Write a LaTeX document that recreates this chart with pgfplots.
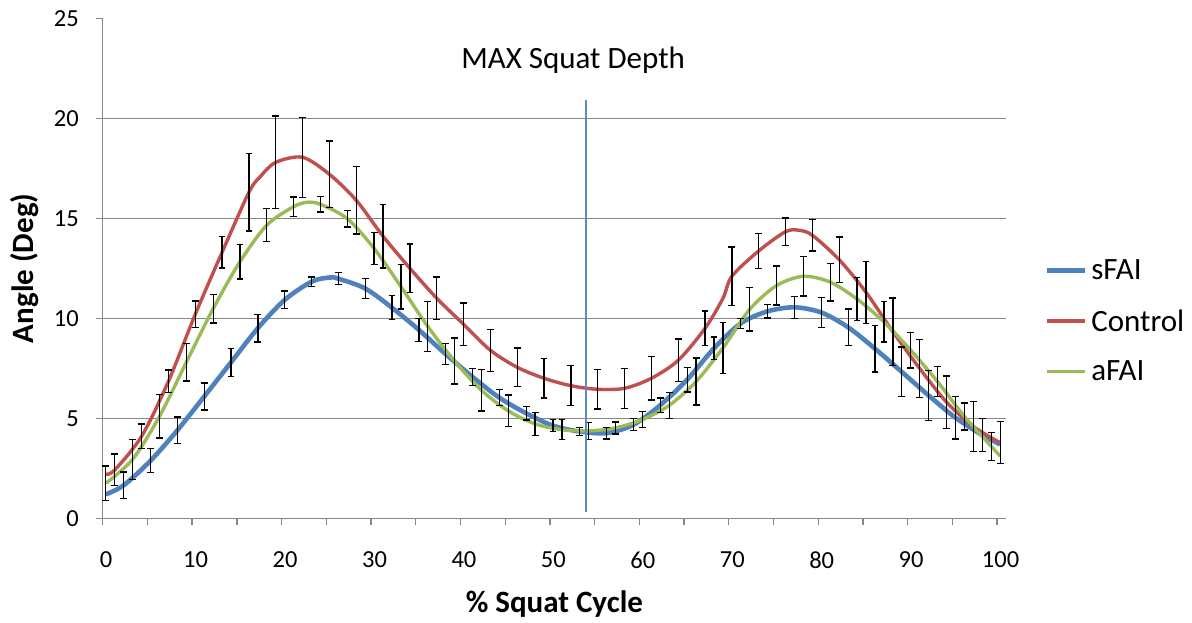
\documentclass[border=0pt]{standalone}
\usepackage{pgfplots}
\pgfplotsset{compat=1.18}
\usepackage{pgfplotstable}
\usepackage{fontspec}
\setmainfont{Carlito}
\definecolor{sblue}{HTML}{4F81BD}
\definecolor{cred}{HTML}{C0504D}
\definecolor{agreen}{HTML}{9BBB59}
\definecolor{gridgray}{HTML}{868686}
\definecolor{vline}{HTML}{5B8BC8}

% curve points (x = % squat cycle)
\pgfplotstableread{
x y
0 1.2
2 1.65
5 2.88
8 4.4
11 6.09
14 7.8
17 9.51
20 10.92
23 11.83
25 12.04
26 11.98
29 11.49
32 10.53
35 9.42
38 8.21
41 7.07
44 6.03
47 5.25
50 4.63
53 4.34
56 4.26
59 4.68
62 5.66
65 6.93
68 8.5
71 9.75
74 10.35
77 10.55
80 10.29
83 9.55
86 8.48
89 7.32
92 6.14
95 5.03
98 4.16
100 3.69
}\blueline

\pgfplotstableread{
x y
0 2.2
1 2.42
4 4.1
7 6.85
10 10.2
13 13.3
16 16.3
17.3 17.1
19 17.8
22 18.05
25 17.2
28 15.9
31 14.1
34 12.5
37 11.0
40 9.7
43 8.4
46 7.55
49 7.0
52 6.63
55 6.45
58 6.5
61 7.0
64 7.9
67 9.5
69 11.0
70 12.1
73 13.37
76 14.33
77.5 14.4
79 14.15
82 12.93
85 11.3
88 9.33
91 7.49
94 5.81
97 4.59
100 3.78
}\redline

\pgfplotstableread{
x y
0 1.75
3 2.95
6 5.1
9 7.8
12 10.48
15 12.83
18 14.66
21 15.58
22.5 15.8
24 15.7
27 14.98
30 13.49
33 11.58
36 9.59
39 7.86
42 6.4
45 5.37
48 4.72
51 4.43
54 4.37
57 4.52
60 4.94
63 5.65
66 6.84
69 8.52
72 10.45
75 11.64
78 12.1
81 11.81
84 10.96
87 9.82
90 8.4
93 6.83
96 5.09
99 3.6
100 3.11
}\greenline

% error bars (x, mean, half range)
\pgfplotstableread{
x y e
2 1.65 0.67
5 2.88 0.6
8 4.4 0.67
11 6.09 0.68
14 7.8 0.7
17 9.51 0.69
20 10.92 0.44
23 11.83 0.23
26 11.98 0.3
29 11.49 0.5
32 10.53 0.6
35 9.42 0.58
38 8.21 0.53
41 7.07 0.43
44 6.03 0.4
47 5.25 0.33
50 4.63 0.3
53 4.34 0.21
56 4.26 0.29
59 4.68 0.3
62 5.66 0.36
65 6.93 0.62
68 8.5 0.57
71 9.75 0.25
74 10.35 0.33
77 10.55 0.55
80 10.29 0.75
83 9.55 0.92
86 8.48 1.16
89 7.32 1.24
92 6.14 1.26
95 5.03 1.06
98 4.16 0.82
}\blueerr

\pgfplotstableread{
x y e
1 2.42 0.79
4 4.1 0.62
7 6.85 0.57
10 10.2 0.66
13 13.3 0.78
16 16.3 1.94
19 17.8 2.32
22 18.05 2.0
25 17.2 1.67
28 15.9 1.68
31 14.1 1.58
34 12.5 1.22
37 11.0 1.07
40 9.7 1.07
43 8.4 1.05
46 7.55 0.97
49 7.0 0.98
52 6.63 1.0
55 6.45 0.98
58 6.5 1.0
61 7.0 1.08
64 7.9 1.07
67 9.5 0.87
70 12.1 1.47
73 13.37 0.87
76 14.33 0.68
79 14.15 0.78
82 12.93 1.14
85 11.3 1.55
88 9.33 1.68
91 7.49 1.46
94 5.81 1.31
97 4.59 1.25
100 3.78 1.05
}\rederr

\pgfplotstableread{
x y e
0 1.75 0.87
3 2.95 1.0
6 5.1 1.08
9 7.8 0.94
12 10.48 0.72
15 12.83 0.86
18 14.66 0.82
21 15.58 0.49
24 15.7 0.38
27 14.98 0.42
30 13.49 0.79
33 11.58 1.12
36 9.59 1.25
39 7.86 1.15
42 6.4 1.03
45 5.37 0.79
48 4.72 0.58
51 4.43 0.5
54 4.37 0.43
57 4.52 0.3
60 4.94 0.39
63 5.65 0.65
66 6.84 1.17
69 8.52 1.27
72 10.45 1.08
75 11.64 0.98
78 12.1 0.98
81 11.81 0.94
84 10.96 1.08
87 9.82 1.01
90 8.4 0.88
93 6.83 0.75
96 5.09 0.67
99 3.6 0.7
}\greenerr

\pgfplotsset{myerr/.style={forget plot, draw=none, mark=none,
  error bars/.cd, y dir=both, y explicit,
  error bar style={draw=black, solid, line width=1.3pt},
  error mark=-,
  error mark options={draw=black, solid, line width=1.3pt, mark size=3.4pt, rotate=90}}}

\begin{document}
\begin{tikzpicture}
\begin{axis}[
  name=ax,
  scale only axis,
  width=903.3pt, height=500pt,
  xmin=0, xmax=101, ymin=0, ymax=25,
  axis lines=left,
  axis line style={-, draw=gridgray, line width=1.3pt},
  xtick={0,10,...,100},
  minor xtick={5,15,...,95},
  ytick={0,5,...,20},
  extra y ticks={25},
  extra y tick style={grid=none},
  ymajorgrids,
  major grid style={draw=gridgray, line width=1.3pt},
  tick align=outside,
  major tick length=7pt, minor tick length=7pt,
  every tick/.style={draw=gridgray, line width=1.3pt},
  /pgf/number format/assume math mode=true,
  ticklabel style={font=\fontsize{24.5}{29}\selectfont},
  yticklabel style={inner sep=0pt, anchor=east, xshift=-16.7pt},
  xticklabel style={inner sep=0pt, anchor=north, yshift=-26.4pt, xshift=3.5pt},
  xlabel={\% Squat Cycle},
  ylabel={Angle (Deg)},
  every axis x label/.style={at={(axis description cs:0.5,-0.1874)}, anchor=base, font=\fontsize{31}{37}\selectfont\bfseries},
  every axis y label/.style={at={(axis description cs:-0.0761,0.5)}, rotate=90, anchor=base, font=\fontsize{31}{37}\selectfont\bfseries},
  legend style={draw=none, fill=none, at={(axis description cs:1.0432,0.3946)}, anchor=west,
    inner sep=0pt, outer sep=0pt, row sep=28pt, column sep=4pt,
    font=\fontsize{31}{37}\selectfont, nodes={inner sep=0pt}},
  legend cell align=left,
  legend image code/.code={\draw[#1] (0pt,0pt) -- (37.7pt,0pt);},
  clip=false,
]
\addplot[sblue, line width=4.6pt, smooth] table[x expr=\thisrow{x}+0.35, y=y]{\blueline};
\addlegendentry{sFAI}
\addplot[cred, line width=3.4pt, smooth] table[x expr=\thisrow{x}+0.35, y=y]{\redline};
\addlegendentry{Control}
\addplot[agreen, line width=3.4pt, smooth] table[x expr=\thisrow{x}+0.35, y=y]{\greenline};
\addlegendentry{aFAI}

\addplot[myerr] table[x expr=\thisrow{x}+0.35, y=y, y error=e]{\blueerr};
\addplot[myerr] table[x expr=\thisrow{x}+0.35, y=y, y error=e]{\rederr};
\addplot[myerr] table[x expr=\thisrow{x}+0.35, y=y, y error=e]{\greenerr};

\addplot[forget plot, vline, line width=1.2pt] coordinates {(54.04,0.33) (54.04,20.9)};
\node[anchor=base, font=\fontsize{31}{37}\selectfont] at (axis cs:52.6,22.5) {MAX Squat Depth};
\end{axis}
\pgfresetboundingbox
\path[use as bounding box] ([xshift=-102.7pt, yshift=-103.7pt]ax.south west) rectangle ++(1192pt,622pt);
\end{tikzpicture}
\end{document}
